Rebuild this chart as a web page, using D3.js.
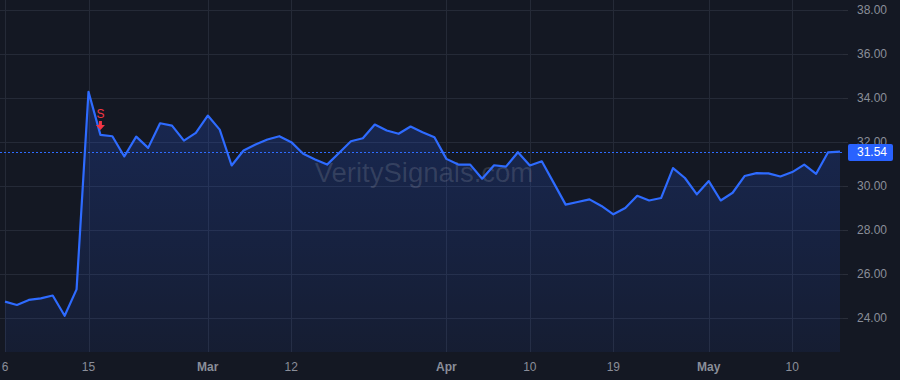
<!DOCTYPE html>
<html>
<head>
<meta charset="utf-8">
<script src="https://cdn.jsdelivr.net/npm/d3@7"></script>
<style>
  html, body { margin: 0; padding: 0; background: #141823; }
  svg { display: block; font-family: "Liberation Sans", Arial, sans-serif; }
</style>
</head>
<body>
<svg id="chart"></svg>
<script>
// daily closes, one per trading day (Feb 6 .. May 16)
var closes = [
  24.72, 24.57, 24.80, 24.87, 25.00, 24.08, 25.28, 34.26, 32.30, 32.24,
  31.32, 32.22, 31.71, 32.83, 32.72, 32.04, 32.39, 33.18, 32.54, 30.91,
  31.59, 31.86, 32.09, 32.24, 31.97, 31.44, 31.18, 30.95, 31.48, 32.01,
  32.15, 32.77, 32.50, 32.35, 32.68, 32.42, 32.19, 31.21, 30.95, 30.95,
  30.31, 30.92, 30.86, 31.51, 30.91, 31.10, 30.12, 29.13, 29.25, 29.37,
  29.07, 28.69, 28.98, 29.53, 29.32, 29.43, 30.79, 30.34, 29.60, 30.20,
  29.32, 29.67, 30.43, 30.56, 30.55, 30.41, 30.61, 30.95, 30.53, 31.51,
  31.54
];

// x-axis ticks: index of the trading day and its label
var tickIndex = [0, 7, 17, 24, 37, 44, 51, 59, 66];
var tickLabels = ["6", "15", "Mar", "12", "Apr", "10", "19", "May", "10"];
var monthLabels = ["Mar", "Apr", "May"];

var priceTicks = [24, 26, 28, 30, 32, 34, 36, 38];

var signalIndex = 8; // "S" marker

var width = 900,
    height = 380;
var plotRight = 843,
    plotBottom = 352;

var svg = d3.select("#chart")
    .attr("width", width)
    .attr("height", height);

svg.append("rect")
    .attr("width", width)
    .attr("height", height)
    .attr("fill", "#141823");

var x = d3.scaleLinear()
    .domain([0, closes.length - 1])
    .range([5, 840]);

var y = d3.scaleLinear()
    .domain([24, 38])
    .range([317.5, 9.5]);

// grid
var grid = svg.append("g");
grid.selectAll("line.h")
    .data(priceTicks)
  .enter().append("line")
    .attr("class", "h")
    .attr("x1", 0).attr("x2", plotRight)
    .attr("y1", function(d) { return Math.round(y(d)) + 0.5; })
    .attr("y2", function(d) { return Math.round(y(d)) + 0.5; })
    .attr("stroke", "#252a37");

grid.selectAll("line.v")
    .data(tickIndex)
  .enter().append("line")
    .attr("class", "v")
    .attr("y1", 0).attr("y2", plotBottom)
    .attr("x1", function(d) { return Math.round(x(d)) + 0.5; })
    .attr("x2", function(d) { return Math.round(x(d)) + 0.5; })
    .attr("stroke", "#252a37");

// area gradient
var defs = svg.append("defs");
var grad = defs.append("linearGradient")
    .attr("id", "fillGrad")
    .attr("gradientUnits", "userSpaceOnUse")
    .attr("x1", 0).attr("x2", 0)
    .attr("y1", y(34.3)).attr("y2", plotBottom);
grad.append("stop").attr("offset", "0%").attr("stop-color", "#2962ff").attr("stop-opacity", 0.22);
grad.append("stop").attr("offset", "100%").attr("stop-color", "#2962ff").attr("stop-opacity", 0.07);

var area = d3.area()
    .x(function(d, i) { return x(i); })
    .y0(plotBottom)
    .y1(function(d) { return y(d); });

var line = d3.line()
    .x(function(d, i) { return x(i); })
    .y(function(d) { return y(d); });

svg.append("path")
    .datum(closes)
    .attr("d", area)
    .attr("fill", "url(#fillGrad)");

// watermark
svg.append("text")
    .attr("x", 424)
    .attr("y", 182)
    .attr("text-anchor", "middle")
    .attr("font-size", 27.5)
    .attr("fill", "#ffffff")
    .attr("fill-opacity", 0.13)
    .text("VeritySignals.com");

svg.append("path")
    .datum(closes)
    .attr("d", line)
    .attr("fill", "none")
    .attr("stroke", "#2e6bff")
    .attr("stroke-width", 2.2)
    .attr("stroke-linejoin", "round");

// last price line
var last = closes[closes.length - 1];
svg.append("line")
    .attr("x1", 0).attr("x2", plotRight)
    .attr("y1", Math.round(y(last)) + 0.5)
    .attr("y2", Math.round(y(last)) + 0.5)
    .attr("stroke", "#2e6bff")
    .attr("stroke-width", 1)
    .attr("stroke-dasharray", "2,2");

// signal marker
var sx = x(signalIndex);
svg.append("text")
    .attr("x", sx)
    .attr("y", 118)
    .attr("text-anchor", "middle")
    .attr("font-size", 12)
    .attr("fill", "#f23645")
    .text("S");
svg.append("path")
    .attr("d", "M" + (sx - 1.5) + ",121 h3 v4 h3 l-4.5,5 l-4.5,-5 h3 z")
    .attr("fill", "#f23645");

// right price axis
var yAxis = svg.append("g");
yAxis.selectAll("line")
    .data(priceTicks)
  .enter().append("line")
    .attr("x1", plotRight).attr("x2", plotRight + 5)
    .attr("y1", function(d) { return Math.round(y(d)) + 0.5; })
    .attr("y2", function(d) { return Math.round(y(d)) + 0.5; })
    .attr("stroke", "#2a2e39");
yAxis.selectAll("text")
    .data(priceTicks)
  .enter().append("text")
    .attr("x", 857)
    .attr("y", function(d) { return y(d) + 4.5; })
    .attr("font-size", 12)
    .attr("fill", "#8a8e99")
    .text(function(d) { return d3.format(".2f")(d); });

// last price badge
svg.append("rect")
    .attr("x", 848)
    .attr("y", Math.round(y(last)) - 8)
    .attr("width", 45)
    .attr("height", 17)
    .attr("rx", 2)
    .attr("fill", "#2962ff");
svg.append("text")
    .attr("x", 857)
    .attr("y", y(last) + 4.5)
    .attr("font-size", 12)
    .attr("fill", "#ffffff")
    .text(d3.format(".2f")(last));

// bottom time axis
svg.selectAll("text.xt")
    .data(tickIndex)
  .enter().append("text")
    .attr("class", "xt")
    .attr("x", function(d) { return x(d); })
    .attr("y", 371)
    .attr("text-anchor", "middle")
    .attr("font-size", 12)
    .attr("font-weight", function(d, i) { return monthLabels.indexOf(tickLabels[i]) >= 0 ? "bold" : "normal"; })
    .attr("fill", "#8a8e99")
    .text(function(d, i) { return tickLabels[i]; });
</script>
</body>
</html>
